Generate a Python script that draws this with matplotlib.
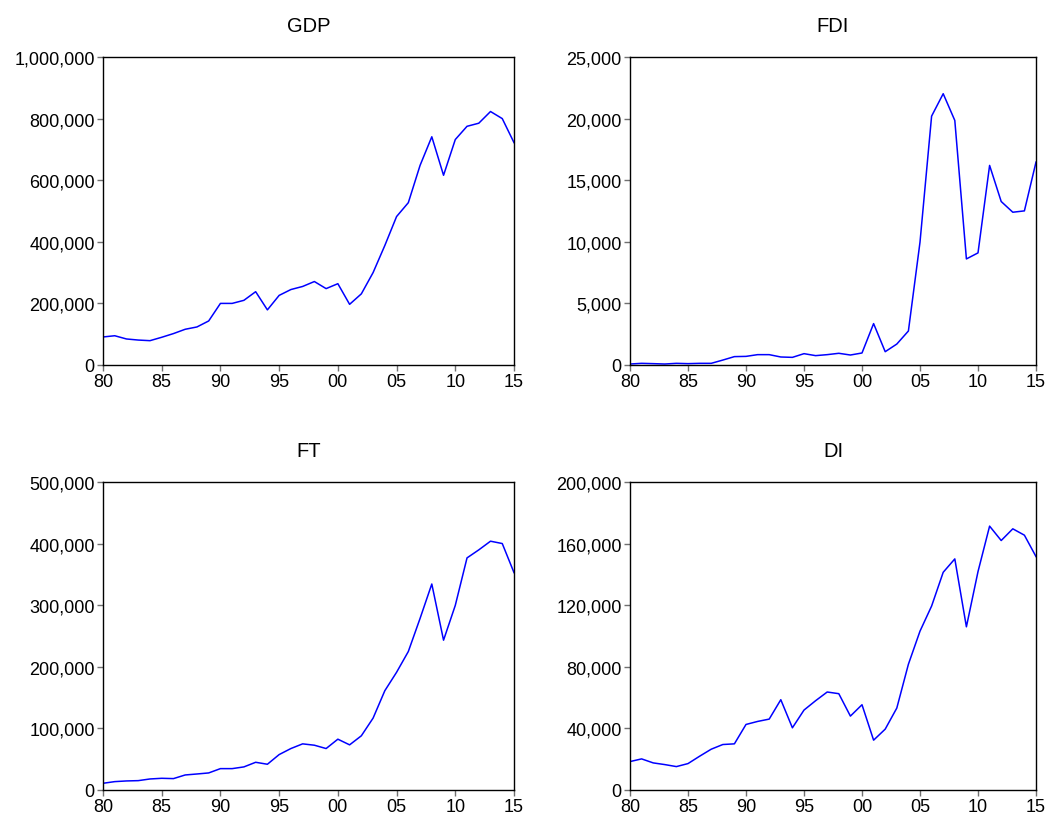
import matplotlib
matplotlib.use('Agg')
import matplotlib.pyplot as plt
from matplotlib.ticker import FuncFormatter, MultipleLocator

plt.rcParams['font.family'] = ['Liberation Sans', 'DejaVu Sans']

years = list(range(1980, 2016))

gdp = [91000, 95000, 84500, 81000, 79000, 90000, 102000, 116000, 123500, 143000,
       200000, 200000, 210000, 238000, 179000, 226000, 245000, 255000, 271000, 248000,
       264000, 197000, 231000, 300000, 388000, 482000, 527000, 648000, 741000, 616000,
       732000, 775000, 785000, 823000, 800000, 722000]

fdi = [80, 135, 110, 80, 135, 110, 135, 135, 400, 680,
       700, 840, 840, 650, 620, 920, 760, 840, 950, 810,
       975, 3360, 1080, 1700, 2760, 9970, 20200, 22020, 19850, 8610,
       9100, 16200, 13270, 12400, 12510, 16470]

ft = [10900, 13600, 14700, 15200, 17900, 19000, 18500, 24400, 26000, 27700,
      34700, 34700, 37500, 45000, 41800, 57500, 67300, 74900, 72700, 67300,
      82500, 73300, 88000, 116700, 161200, 191100, 224800, 278500, 334400, 243200,
      299700, 376800, 389800, 403900, 400100, 352900]

di = [18460, 20200, 17600, 16500, 15200, 17150, 21930, 26490, 29530, 29970,
      42560, 44520, 46040, 58630, 40390, 51900, 57980, 63630, 62540, 47990,
      55370, 32360, 39520, 53200, 81650, 103150, 119440, 141370, 150060, 105970,
      141800, 171340, 162000, 169600, 165470, 151570]

panels = [
    ('GDP', gdp, 1000000, 200000, [103, 58, 514, 366]),
    ('FDI', fdi, 25000, 5000, [630, 58, 1036, 366]),
    ('FT', ft, 500000, 100000, [103, 483, 514, 791]),
    ('DI', di, 200000, 40000, [630, 483, 1036, 791]),
]

W, H = 1052, 820
fig = plt.figure(figsize=(W / 100, H / 100), dpi=100)

for name, vals, top, step, (x0, y0, x1, y1) in panels:
    ax = fig.add_axes([x0 / W, 1 - y1 / H, (x1 - x0) / W, (y1 - y0) / H])
    ax.plot(years, vals, color='#0000ff', linewidth=1.1)
    ax.set_xlim(1980, 2015)
    ax.set_ylim(0, top)
    ax.xaxis.set_major_locator(MultipleLocator(5))
    ax.yaxis.set_major_locator(MultipleLocator(step))
    ax.xaxis.set_major_formatter(FuncFormatter(lambda v, p: '%02d' % (int(v) % 100)))
    ax.yaxis.set_major_formatter(FuncFormatter(lambda v, p: '{:,.0f}'.format(v)))
    ax.tick_params(direction='out', length=4, width=1, color='#707070',
                   labelsize=13, pad=2)
    for s in ax.spines.values():
        s.set_linewidth(1.0)
        s.set_color('black')
    ax.set_title(name, fontsize=14.5, pad=19)

fig.savefig('out.png', dpi=100)
